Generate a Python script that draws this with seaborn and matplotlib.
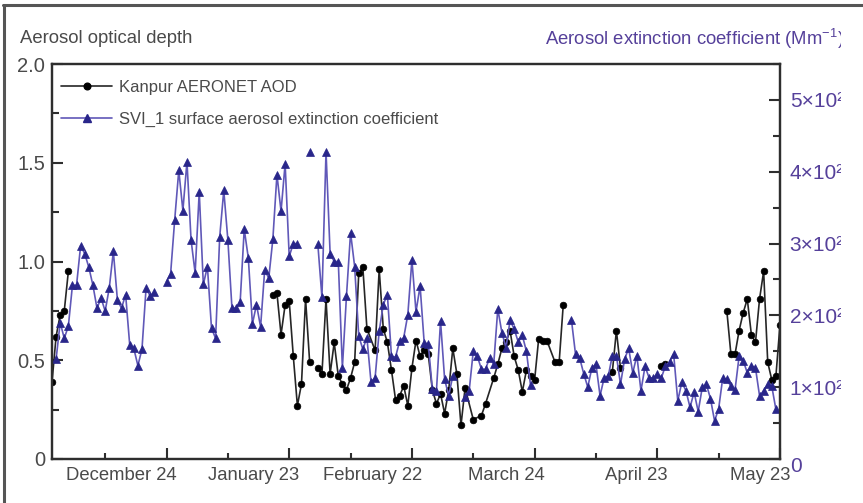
import pandas as pd
import matplotlib
matplotlib.use("Agg")
import matplotlib.pyplot as plt
from matplotlib.lines import Line2D
from matplotlib.patches import Rectangle
from matplotlib.ticker import MultipleLocator, FixedLocator
from matplotlib.transforms import ScaledTranslation
import seaborn as sns

# ---------------------------------------------------------------------------
# Data: day offsets counted from START, daily values (None = no data, line break)
# ---------------------------------------------------------------------------
START = pd.Timestamp("2010-11-26")
END = pd.Timestamp("2011-05-23")

aod_day = [0, 1, 2, 3, 4, 5,
           54, 55, 56, 57, 58, 59, 60, 61, 62, 63, 64,
           65, 66, 67, 68, 69, 70, 71, 72, 73, 74, 75, 76, 77, 79, 80, 81, 82, 83,
           84, 85, 86, 87, 88, 89, 90, 91, 92, 93, 94, 95, 96, 97, 98, 99, 100,
           101, 103, 105, 106, 108, 109, 110, 111, 112, 113, 114, 115, 116, 117,
           118, 119, 120, 121, 123, 124, 125, 126,
           137, 138, 139, 140,
           149, 150, 151,
           165, 166, 167, 168, 169, 170, 171, 172, 173, 174, 175, 176, 177, 178]
aod_val = [0.39, 0.62, 0.73, 0.75, 0.95, None,
           0.83, 0.84, 0.63, 0.78, 0.80, 0.52, 0.27, 0.38, 0.81, 0.49, None,
           0.46, 0.43, 0.81, 0.43, 0.59, 0.42, 0.38, 0.35, 0.41, 0.49, 0.94, 0.97, 0.66, 0.55, 0.96, 0.66, 0.59, 0.45,
           0.30, 0.32, 0.37, 0.27, 0.46, 0.60, 0.52, 0.55, 0.53, 0.35, 0.28, 0.33, 0.23, 0.35, 0.56, 0.43, 0.17,
           0.36, 0.20, 0.22, 0.28, 0.41, 0.48, 0.56, 0.59, 0.65, 0.52, 0.45, 0.34, 0.45, 0.42,
           0.40, 0.61, 0.60, 0.60, 0.49, 0.49, 0.78, None,
           0.44, 0.65, 0.46, None,
           0.47, 0.48, None,
           0.75, 0.53, 0.53, 0.65, 0.74, 0.81, 0.63, 0.59, 0.81, 0.95, 0.49, 0.40, 0.42, 0.68]

ext_day = [1, 2, 3, 4, 5, 6, 7, 8, 9, 10, 11, 12, 13, 14, 15, 16, 17, 18, 19, 20,
           21, 22, 23, 24, 25, 26,
           28, 29, 30, 31, 32, 33, 34, 35, 36, 37, 38, 39, 40, 41, 42, 43, 44, 45,
           46, 47, 48, 49, 50, 51, 52, 53, 54, 55, 56, 57, 58, 59, 60, 61,
           63, 64,
           65, 66, 67, 68, 69, 70, 71, 72, 73, 74, 75, 76, 77, 78, 79, 80, 81, 82,
           83, 84, 85, 86, 87, 88, 89, 90, 91, 92, 93, 94, 95, 96, 97, 98, 99,
           101, 102, 103, 104, 105, 106, 107, 108, 109, 110, 111, 112, 113, 114,
           115, 116, 117, 118,
           127, 128, 129, 130, 131, 132, 133, 134, 135, 136, 137, 138, 139, 140,
           141, 142, 143, 144, 145, 146, 147, 148, 149, 150, 151, 152, 153, 154,
           155, 156, 157, 158, 159, 160, 161, 162, 163, 164, 165, 166, 167, 168,
           169, 170, 171, 172, 173, 174, 175, 176, 177]
ext_val = [139, 190, 168, 185, 242, 242, 297, 286, 267, 242, 210, 224, 206, 238, 289, 221, 210, 229, 159, 154,
           130, 153, 238, 227, 232, None,
           247, 258, 333, 402, 346, 414, 305, 259, 372, 243, 268, 182, 168, 309, 374, 305, 210, 210,
           218, 320, 280, 188, 215, 184, 263, 252, 306, 396, 345, 411, 282, 300, 300, None,
           428, None,
           299, 225, 428, 286, 275, 275, 127, 227, 315, 268, 171, 153, 169, 107, 113, 178, 215, 229,
           143, 142, 164, 169, 201, 277, 205, 241, 162, 160, 97, 95, 192, 111, 88, 116, None,
           86, 95, 150, 143, 125, 125, 141, 132, 209, 176, 155, 193, 181, 163,
           172, 150, 103, None,
           194, 146, 141, 119, 100, 127, 132, 88, 113, 115, 144, 144, 104, 139,
           154, 120, 144, 95, 129, 113, 113, 118, 113, 130, 135, 146, 81, 107,
           95, 72, 93, 66, 100, 104, 84, 53, 70, 113, 111, 101, 96, 143,
           137, 120, 130, 127, 88, 95, 104, 101, 69]

aod_label = "Kanpur AERONET AOD"
ext_label = "SVI_1 surface aerosol extinction coefficient"

aod_ticks = [0, 0.5, 1.0, 1.5, 2.0]
aod_ticklabels = ["0", "0.5", "1.0", "1.5", "2.0"]
ext_ticks = [0, 100, 200, 300, 400, 500]
ext_ticklabels = ["0", "1×10²", "2×10²", "3×10²", "4×10²", "5×10²"]
date_ticks = ["2010-12-24", "2011-01-23", "2011-02-22", "2011-03-24", "2011-04-23", "2011-05-23"]
date_minor = ["2010-12-09", "2011-01-08", "2011-02-07", "2011-03-09", "2011-04-08", "2011-05-08"]
date_ticklabels = ["December 24", "January 23", "February 22", "March 24", "April 23", "May 23"]

# ---------------------------------------------------------------------------
# Style
# ---------------------------------------------------------------------------
sns.set_style("white")
plt.rcParams["font.family"] = ["Liberation Sans", "DejaVu Sans"]
plt.rcParams["mathtext.fontset"] = "custom"
plt.rcParams["mathtext.rm"] = "Liberation Sans"
plt.rcParams["mathtext.it"] = "Liberation Sans:italic"
plt.rcParams["mathtext.bf"] = "Liberation Sans:bold"

TEXT = "#4a4a4a"
SPINE = "#2e2e2e"
PURPLE_TXT = "#55409a"
AOD_LINE = "#262626"
EXT_LINE = "#6058b8"
EXT_MARK = "#29268a"


def segments(days, vals):
    df = pd.DataFrame({"date": START + pd.to_timedelta(days, unit="D"),
                       "value": pd.to_numeric(pd.Series(vals, dtype="object"), errors="coerce")})
    df["seg"] = df["value"].isna().cumsum()
    return df.dropna().reset_index(drop=True)


def day_num(d):
    return pd.Timestamp(d).toordinal() - pd.Timestamp("1970-01-01").toordinal()


aod_df = segments(aod_day, aod_val)
ext_df = segments(ext_day, ext_val)

W, H = 863, 503
fig = plt.figure(figsize=(W / 100, H / 100), dpi=100)
ax = fig.add_axes([52 / W, 1 - 459 / H, 728 / W, 395 / H])
ax2 = ax.twinx()

sns.lineplot(data=aod_df, x="date", y="value", units="seg", estimator=None, ax=ax,
             color=AOD_LINE, lw=1.2, marker="o", markersize=4.8,
             markerfacecolor="black", markeredgecolor="black", markeredgewidth=0.5,
             legend=False, sort=True)
sns.lineplot(data=ext_df, x="date", y="value", units="seg", estimator=None, ax=ax2,
             color=EXT_LINE, lw=1.2, marker="^", markersize=5.8,
             markerfacecolor=EXT_MARK, markeredgecolor=EXT_MARK, markeredgewidth=0.5,
             legend=False, sort=True)

# Axes limits and ticks
ax.set_xlim(START, END)
ax.set_ylim(0, 2.0)
ax2.set_ylim(0, 550)
ax.set_xlabel("")
ax.set_ylabel("")
ax2.set_ylabel("")

ax.xaxis.set_major_locator(FixedLocator([day_num(d) for d in date_ticks]))
ax.xaxis.set_minor_locator(FixedLocator([day_num(d) for d in date_minor]))
ax.set_xticklabels(date_ticklabels)

ax.set_yticks(aod_ticks)
ax.set_yticklabels(aod_ticklabels)
ax.yaxis.set_minor_locator(MultipleLocator(0.25))
ax2.set_yticks(ext_ticks)
ax2.set_yticklabels(ext_ticklabels)
ax2.yaxis.set_minor_locator(MultipleLocator(50))

for a in (ax, ax2):
    for s in a.spines.values():
        s.set_color(SPINE)
        s.set_linewidth(1.6)
        s.set_visible(True)

ax.tick_params(axis="x", which="both", direction="in", bottom=True, top=False,
               color=SPINE, width=1.5, labelsize=13.3, labelcolor=TEXT, pad=6)
ax.tick_params(axis="x", which="major", length=8)
ax.tick_params(axis="x", which="minor", length=4)
ax.tick_params(axis="y", which="both", direction="in", left=True, right=False,
               color=SPINE, width=1.5, labelsize=14.5, labelcolor=TEXT, pad=5)
ax.tick_params(axis="y", which="major", length=8)
ax.tick_params(axis="y", which="minor", length=5)
ax2.tick_params(axis="y", which="both", direction="in", left=False, right=True,
                color=SPINE, width=1.5, labelsize=15, labelcolor=PURPLE_TXT, pad=7)
ax2.tick_params(axis="y", which="major", length=8)
ax2.tick_params(axis="y", which="minor", length=5)
ax2.tick_params(axis="x", which="both", bottom=False, top=False)

# Date labels sit just left of their tick, ending slightly past it
shift = ScaledTranslation(10 / 100, 0, fig.dpi_scale_trans)
for lab in ax.get_xticklabels():
    lab.set_horizontalalignment("right")
    lab.set_transform(lab.get_transform() + shift)

# The right-hand zero sits a little below its tick
zero_lab = ax2.get_yticklabels()[0]
zero_lab.set_transform(zero_lab.get_transform() + ScaledTranslation(0, -6 / 100, fig.dpi_scale_trans))

# Legend
handles = [
    Line2D([], [], color=AOD_LINE, lw=1.2, marker="o", markersize=4.8,
           markerfacecolor="black", markeredgecolor="black"),
    Line2D([], [], color=EXT_LINE, lw=1.2, marker="^", markersize=5.8,
           markerfacecolor=EXT_MARK, markeredgecolor=EXT_MARK),
]
leg = ax2.legend(handles, [aod_label, ext_label], loc="upper left",
                 bbox_to_anchor=(0.012, 0.96), frameon=False, fontsize=12,
                 handlelength=3.1, handletextpad=0.4, labelspacing=1.05,
                 borderpad=0, borderaxespad=0, numpoints=1)
for t in leg.get_texts():
    t.set_color(TEXT)

# Axis titles above the plot
fig.text(20 / W, 1 - 38.5 / H, "Aerosol optical depth", ha="left", va="center",
         fontsize=13.3, color=TEXT)
fig.text(844 / W, 1 - 38.5 / H, "Aerosol extinction coefficient (Mm$^{-1}$)",
         ha="right", va="center", fontsize=13.3, color=PURPLE_TXT)

# Page margin on the right and frame lines along top and left
fig.patches.append(Rectangle((841 / W, 0), (W - 841) / W, 1 - 9 / H,
                             transform=fig.transFigure, facecolor="white",
                             edgecolor="none", zorder=10))
fig.lines.append(Line2D([3 / W, 1], [1 - 4.5 / H, 1 - 4.5 / H], transform=fig.transFigure,
                        color="#555555", lw=2.2, zorder=11))
fig.lines.append(Line2D([3.5 / W, 3.5 / W], [0, 1 - 4.5 / H], transform=fig.transFigure,
                        color="#555555", lw=2.2, zorder=11))

fig.savefig("out.png", dpi=100, facecolor="white")
